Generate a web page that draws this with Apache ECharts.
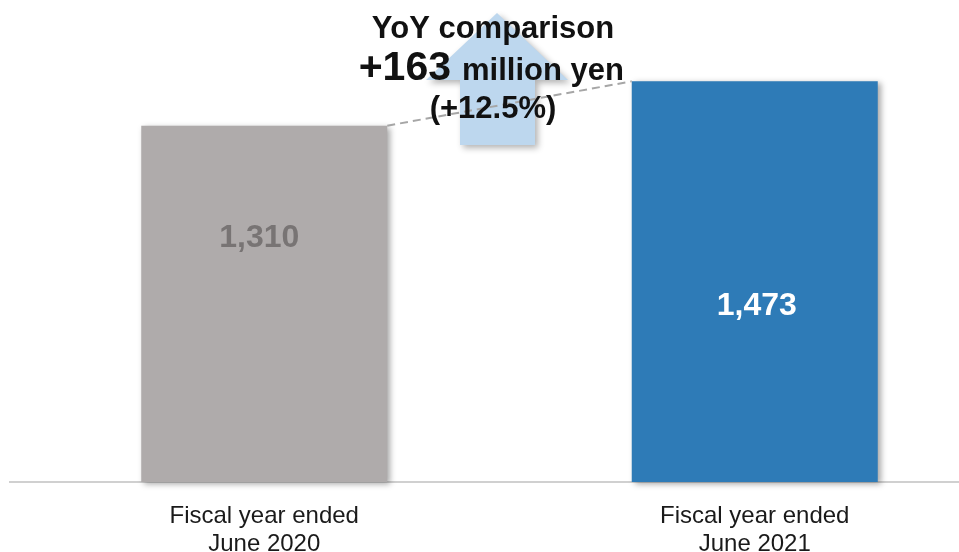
<!DOCTYPE html>
<html>
<head>
<meta charset="utf-8">
<script src="https://cdn.jsdelivr.net/npm/echarts@6/dist/echarts.min.js"></script>
<style>html,body{margin:0;padding:0;background:#fff}#c{width:959px;height:552px}</style>
</head>
<body>
<div id="c"></div>
<script>
var categories = ['Fiscal year ended\nJune 2020', 'Fiscal year ended\nJune 2021'];
var values = [1310, 1473];
var barColors = ['#AFABAB', '#2E7BB7'];
var labelTexts = ['1,310', '1,473'];
var titleLines = ['YoY comparison', '+163', 'million yen', '(+12.5%)'];

var FONT = '"Liberation Sans", Arial, sans-serif';
var chart = echarts.init(document.getElementById('c'), null, {renderer: 'canvas'});
var BAR_W = 246;

var option = {
  animation: false,
  backgroundColor: '#ffffff',
  grid: {left: 19, width: 981, top: 19.6, bottom: 70, containLabel: false, outerBoundsMode: 'none'},
  xAxis: {
    type: 'category',
    data: categories,
    axisLine: {show: false},
    axisTick: {show: false},
    axisLabel: {fontFamily: FONT, fontSize: 24, color: '#1a1a1a', lineHeight: 28, margin: 20}
  },
  yAxis: {type: 'value', min: 0, max: 1700, show: false, splitLine: {show: false}},
  series: [{
    type: 'bar',
    barWidth: BAR_W,
    data: values.map(function (v, i) {
      return {
        value: v,
        itemStyle: {color: barColors[i], shadowColor: 'rgba(0,0,0,0.35)', shadowBlur: 6, shadowOffsetX: 3, shadowOffsetY: 2},
        label: {
          show: true,
          position: 'inside',
          formatter: labelTexts[i],
          offset: i === 0 ? [-5, -66] : [2, 24],
          fontFamily: FONT, fontWeight: 'bold', fontSize: 32,
          color: i === 0 ? '#787474' : '#ffffff'
        }
      };
    })
  }]
};
chart.setOption(option);

var p0 = chart.convertToPixel({seriesIndex: 0}, [0, values[0]]);
var p1 = chart.convertToPixel({seriesIndex: 0}, [1, values[1]]);
var base = chart.convertToPixel({seriesIndex: 0}, [0, 0]);

var arrowPts = [[497, 13], [568, 80], [535, 80], [535, 145], [460, 145], [460, 80], [426, 80]];

chart.setOption({
  graphic: [
    {type: 'line', z: 1, shape: {x1: 9, y1: base[1], x2: 959, y2: base[1]}, style: {stroke: '#D0D0D0', lineWidth: 2}},
    {type: 'polygon', z: 5, shape: {points: arrowPts},
      style: {fill: '#BDD7EE', shadowColor: 'rgba(0,0,0,0.3)', shadowBlur: 6, shadowOffsetX: 3, shadowOffsetY: 3}},
    {type: 'line', z: 6, shape: {x1: p0[0] + BAR_W / 2, y1: p0[1], x2: p1[0] - BAR_W / 2, y2: p1[1]},
      style: {stroke: '#A6A6A6', lineWidth: 2, lineDash: [8, 5]}},
    {type: 'text', z: 10, x: 493, y: 29, style: {text: titleLines[0], font: 'bold 31px ' + FONT, fill: '#111', textAlign: 'center', textVerticalAlign: 'middle'}},
    {type: 'text', z: 10, x: 451, y: 69, style: {text: titleLines[1], font: 'bold 41px ' + FONT, fill: '#111', textAlign: 'right', textVerticalAlign: 'middle'}},
    {type: 'text', z: 10, x: 462, y: 71, style: {text: titleLines[2], font: 'bold 31px ' + FONT, fill: '#111', textAlign: 'left', textVerticalAlign: 'middle'}},
    {type: 'text', z: 10, x: 493, y: 109, style: {text: titleLines[3], font: 'bold 31px ' + FONT, fill: '#111', textAlign: 'center', textVerticalAlign: 'middle'}}
  ]
});
</script>
</body>
</html>
